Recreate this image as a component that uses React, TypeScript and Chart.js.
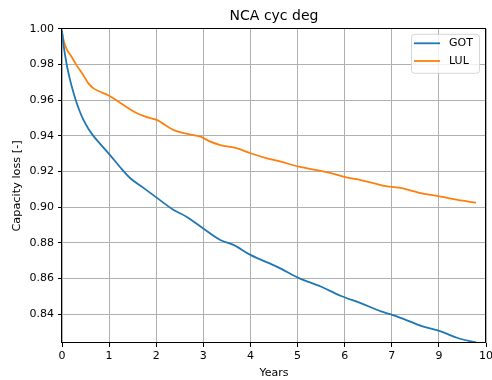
import React, { useEffect, useRef } from "react";
import { Chart, registerables } from "chart.js";

Chart.register(...registerables);

const chartTitle = "NCA cyc deg";
const xAxisTitle = "Years";
const yAxisTitle = "Capacity loss [-]";

// tick positions on the drawn axis and their printed labels (as in the reference)
const xTickPositions = [0, 1, 2, 3, 4, 5, 6, 7, 8, 9];
const xTickLabels = ["0", "1", "2", "3", "4", "5", "6", "7", "9", "10"];
const yTicks = [0.84, 0.86, 0.88, 0.9, 0.92, 0.94, 0.96, 0.98, 1.0];

const seriesNames = ["GOT", "LUL"];
const seriesColors = ["#1f77b4", "#ff7f0e"];

const gotX = [0, 0.03, 0.1, 0.17, 0.24, 0.31, 0.38, 0.45, 0.56, 0.67, 0.81, 1.02, 1.23, 1.45, 1.73, 1.98, 2.37, 2.65, 2.94, 3.36, 3.64, 4.0, 4.57, 5.03, 5.49, 5.91, 6.34, 6.77, 7.01, 7.26, 7.62, 8.04, 8.4, 8.79];
const gotY = [0.999, 0.9915, 0.98, 0.9715, 0.9645, 0.9585, 0.9535, 0.9492, 0.944, 0.9398, 0.9355, 0.9292, 0.9225, 0.9162, 0.9108, 0.9059, 0.8984, 0.8945, 0.8891, 0.8816, 0.8788, 0.8732, 0.8665, 0.8602, 0.8555, 0.8503, 0.8462, 0.8415, 0.8396, 0.8372, 0.8334, 0.8303, 0.8266, 0.8241];

const lulX = [0, 0.03, 0.1, 0.2, 0.31, 0.45, 0.56, 0.67, 0.81, 1.0, 1.2, 1.55, 1.77, 2.01, 2.36, 2.79, 2.94, 3.15, 3.36, 3.72, 4.0, 4.35, 4.64, 5.03, 5.49, 5.77, 6.06, 6.34, 6.84, 7.16, 7.62, 8.04, 8.4, 8.79];
const lulY = [0.998, 0.994, 0.9885, 0.9845, 0.9795, 0.9741, 0.9694, 0.9666, 0.9647, 0.9625, 0.9591, 0.9532, 0.9507, 0.9489, 0.9433, 0.9404, 0.9395, 0.9367, 0.9348, 0.933, 0.9302, 0.9274, 0.9255, 0.9227, 0.9203, 0.9186, 0.9165, 0.9152, 0.9119, 0.9109, 0.9078, 0.9059, 0.904, 0.9025];

const yMin = 0.8238;
const yMax = 1.0;
const xMin = 0;
const xMax = 9;

const FONT = "DejaVu Sans";

const framePlugin = {
  id: "frame",
  afterDatasetsDraw(chart: any) {
    const { ctx, chartArea: a } = chart;
    ctx.save();
    ctx.strokeStyle = "#000";
    ctx.lineWidth = 1;
    const l = Math.round(a.left) - 0.5;
    const t = Math.round(a.top) - 0.5;
    const r = Math.round(a.right) - 0.5;
    const b = Math.round(a.bottom) - 0.5;
    ctx.strokeRect(l, t, r - l, b - t);
    ctx.restore();
  },
};

const legendPlugin = {
  id: "mplLegend",
  afterDraw(chart: any) {
    const { ctx, chartArea: a } = chart;
    const w = 68;
    const h = 39;
    const x = a.right - 6.5 - w;
    const y = a.top + 5.5;
    ctx.save();
    ctx.beginPath();
    const r = 3;
    ctx.moveTo(x + r, y);
    ctx.lineTo(x + w - r, y);
    ctx.quadraticCurveTo(x + w, y, x + w, y + r);
    ctx.lineTo(x + w, y + h - r);
    ctx.quadraticCurveTo(x + w, y + h, x + w - r, y + h);
    ctx.lineTo(x + r, y + h);
    ctx.quadraticCurveTo(x, y + h, x, y + h - r);
    ctx.lineTo(x, y + r);
    ctx.quadraticCurveTo(x, y, x + r, y);
    ctx.closePath();
    ctx.fillStyle = "rgba(255,255,255,0.8)";
    ctx.fill();
    ctx.strokeStyle = "rgba(204,204,204,0.8)";
    ctx.lineWidth = 1;
    ctx.stroke();
    ctx.font = `11px "${FONT}"`;
    ctx.textBaseline = "middle";
    ctx.textAlign = "left";
    seriesNames.forEach((name, i) => {
      const ly = y + 9 + i * 17.7;
      ctx.strokeStyle = seriesColors[i];
      ctx.lineWidth = 1.8;
      ctx.beginPath();
      ctx.moveTo(x + 2.5, ly);
      ctx.lineTo(x + 28.5, ly);
      ctx.stroke();
      ctx.fillStyle = "#000";
      ctx.fillText(name, x + 37.5, ly);
    });
    ctx.restore();
  },
};

export default function App() {
  const canvasRef = useRef<HTMLCanvasElement | null>(null);

  useEffect(() => {
    const canvas = canvasRef.current;
    if (!canvas) return;
    const font = { family: FONT, size: 11 };
    const chart = new Chart(canvas, {
      type: "line",
      data: {
        datasets: [
          {
            label: seriesNames[0],
            data: gotX.map((x, i) => ({ x, y: gotY[i] })),
            borderColor: seriesColors[0],
            backgroundColor: seriesColors[0],
            borderWidth: 1.8,
            pointRadius: 0,
            cubicInterpolationMode: "monotone",
            fill: false,
          },
          {
            label: seriesNames[1],
            data: lulX.map((x, i) => ({ x, y: lulY[i] })),
            borderColor: seriesColors[1],
            backgroundColor: seriesColors[1],
            borderWidth: 1.8,
            pointRadius: 0,
            cubicInterpolationMode: "monotone",
            fill: false,
          },
        ],
      },
      options: {
        animation: false,
        responsive: false,
        maintainAspectRatio: false,
        layout: { padding: { left: 0, right: 6, top: 0, bottom: 0 } },
        plugins: {
          legend: { display: false },
          tooltip: { enabled: false },
          title: {
            display: true,
            fullSize: false,
            text: chartTitle,
            color: "#000",
            font: { family: FONT, size: 14, weight: "normal" },
            padding: { top: 8, bottom: 4 },
          },
        },
        scales: {
          x: {
            type: "linear",
            min: xMin,
            max: xMax,
            afterBuildTicks: (s: any) => {
              s.ticks = xTickPositions.map((v) => ({ value: v }));
            },
            afterFit: (s: any) => {
              s.height = 37;
              s.paddingLeft = 0;
              s.paddingRight = 0;
            },
            ticks: {
              autoSkip: false,
              maxRotation: 0,
              color: "#000",
              font,
              padding: 3,
              callback: (_v: any, i: number) => xTickLabels[i],
            },
            grid: { color: "#b0b0b0", lineWidth: 1, tickLength: 4, tickColor: "#000" },
            border: { display: false },
            title: { display: true, text: xAxisTitle, color: "#000", font, padding: { top: 1.4, bottom: 0 } },
          },
          y: {
            type: "linear",
            min: yMin,
            max: yMax,
            afterBuildTicks: (s: any) => {
              s.ticks = yTicks.map((v) => ({ value: v }));
            },
            afterFit: (s: any) => {
              s.width = 62;
              s.paddingTop = 0;
              s.paddingBottom = 0;
            },
            ticks: {
              color: "#000",
              font,
              padding: 4,
              callback: (v: any) => Number(v).toFixed(2),
            },
            grid: { color: "#b0b0b0", lineWidth: 1, tickLength: 4, tickColor: "#000" },
            border: { display: false },
            title: { display: true, text: yAxisTitle, color: "#000", font: { family: FONT, size: 11.3 }, padding: { top: 10, bottom: 0 } },
          },
        },
      } as any,
      plugins: [framePlugin, legendPlugin],
    });
    return () => chart.destroy();
  }, []);

  return (
    <div style={{ position: "absolute", left: 0, top: 0, width: 492, height: 380, background: "#fff" }}>
      <canvas ref={canvasRef} width={492} height={380} style={{ display: "block" }} />
    </div>
  );
}
